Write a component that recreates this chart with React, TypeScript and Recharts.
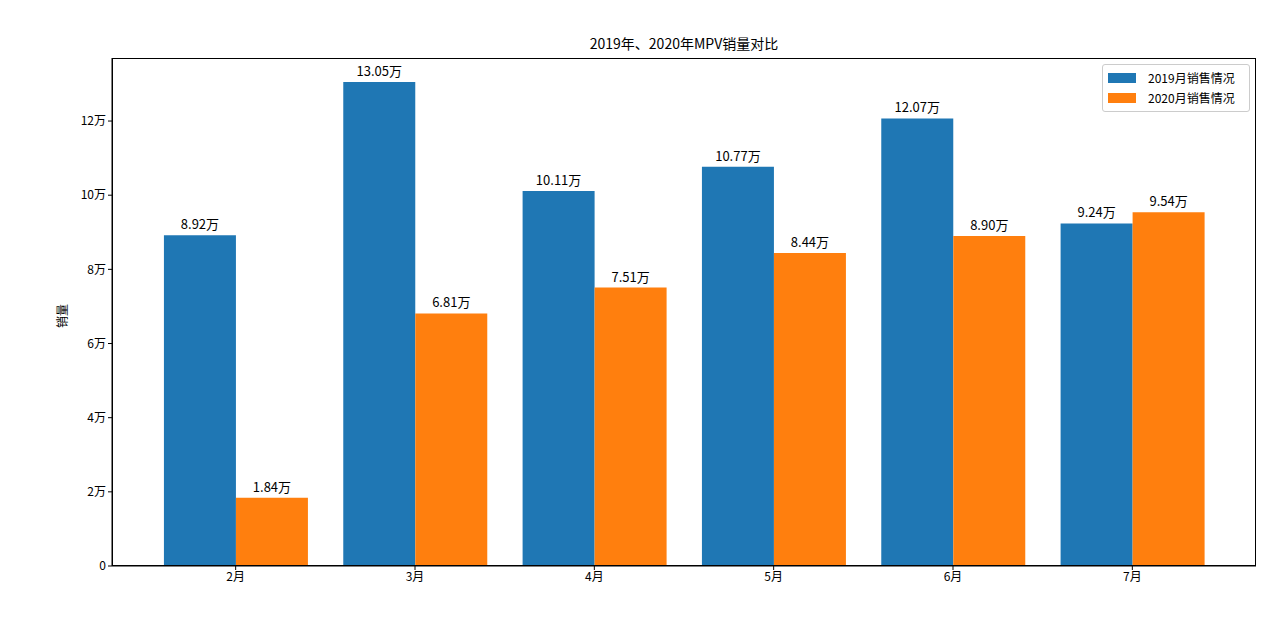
import React from 'react';
import { BarChart, Bar, XAxis, YAxis, LabelList } from 'recharts';

const months = ['2月', '3月', '4月', '5月', '6月', '7月'];
const sales2019 = [8.92, 13.05, 10.11, 10.77, 12.07, 9.24];
const sales2020 = [1.84, 6.81, 7.51, 8.44, 8.9, 9.54];
const yTicks = [0, 2, 4, 6, 8, 10, 12];
const seriesNames = ['2019月销售情况', '2020月销售情况'];
const colors = ['#1f77b4', '#ff7f0e'];
const title = '2019年、2020年MPV销量对比';
const yLabel = '销量';

const data = months.map((m, i) => ({ month: m, a: sales2019[i], b: sales2020[i] }));

const FONT = '"Noto Sans CJK SC", "DejaVu Sans", sans-serif';

const fmtTick = (v: number) => (v === 0 ? '0' : `${v}万`);
const fmtLabel = (v: any) => `${Number(v).toFixed(2)}万`;

const LegendBox = () => (
  <div
    style={{
      position: 'absolute',
      left: 1102,
      top: 64,
      width: 135,
      border: '1px solid #cccccc',
      borderRadius: 3,
      background: 'rgba(255,255,255,0.8)',
      padding: '3px 6px 3px 5px',
      fontFamily: FONT,
      fontSize: 12,
      color: '#000',
      lineHeight: '20px',
    }}
  >
    {seriesNames.map((n, i) => (
      <div key={n} style={{ display: 'flex', alignItems: 'center' }}>
        <span style={{ display: 'inline-block', width: 28, height: 10, background: colors[i], marginRight: 12 }} />
        <span>{n}</span>
      </div>
    ))}
  </div>
);

export default function App() {
  return (
    <div style={{ position: 'absolute', left: 0, top: 0, width: 1280, height: 623, background: '#fff' }}>
      <div
        style={{
          position: 'absolute',
          top: 33,
          left: 112,
          width: 1144,
          textAlign: 'center',
          fontFamily: FONT,
          fontSize: 14,
          color: '#000',
        }}
      >
        {title}
      </div>
      <div
        style={{
          position: 'absolute',
          left: 61,
          top: 316,
          transform: 'translate(-50%, -50%) rotate(-90deg)',
          fontFamily: FONT,
          fontSize: 12,
          color: '#000',
        }}
      >
        {yLabel}
      </div>
      <BarChart
        width={1280}
        height={623}
        data={data}
        margin={{ top: 58, right: 24, bottom: 27, left: 52 }}
        barCategoryGap="10%"
        barGap={0}
      >
        <XAxis
          dataKey="month"
          padding={{ left: 34, right: 34 }}
          height={30}
          axisLine={{ stroke: '#000' }}
          tickLine={{ stroke: '#000' }}
          tickSize={4}
          tick={{ fill: '#000', fontSize: 12, fontFamily: FONT }}
        />
        <YAxis
          domain={[0, 13.7]}
          ticks={yTicks}
          tickFormatter={fmtTick}
          width={60}
          axisLine={{ stroke: '#000' }}
          tickLine={{ stroke: '#000' }}
          tickSize={4}
          tick={{ fill: '#000', fontSize: 12, fontFamily: FONT }}
          allowDataOverflow
        />
        <Bar dataKey="a" fill={colors[0]} isAnimationActive={false}>
          <LabelList dataKey="a" position="top" offset={6} formatter={fmtLabel} style={{ fill: '#000', fontSize: 13, fontFamily: FONT }} />
        </Bar>
        <Bar dataKey="b" fill={colors[1]} isAnimationActive={false}>
          <LabelList dataKey="b" position="top" offset={6} formatter={fmtLabel} style={{ fill: '#000', fontSize: 13, fontFamily: FONT }} />
        </Bar>
      </BarChart>
      <div
        style={{
          position: 'absolute',
          left: 112,
          top: 58,
          width: 1144,
          height: 508,
          border: '1px solid #000',
          boxSizing: 'border-box',
          pointerEvents: 'none',
        }}
      />
      <LegendBox />
    </div>
  );
}
